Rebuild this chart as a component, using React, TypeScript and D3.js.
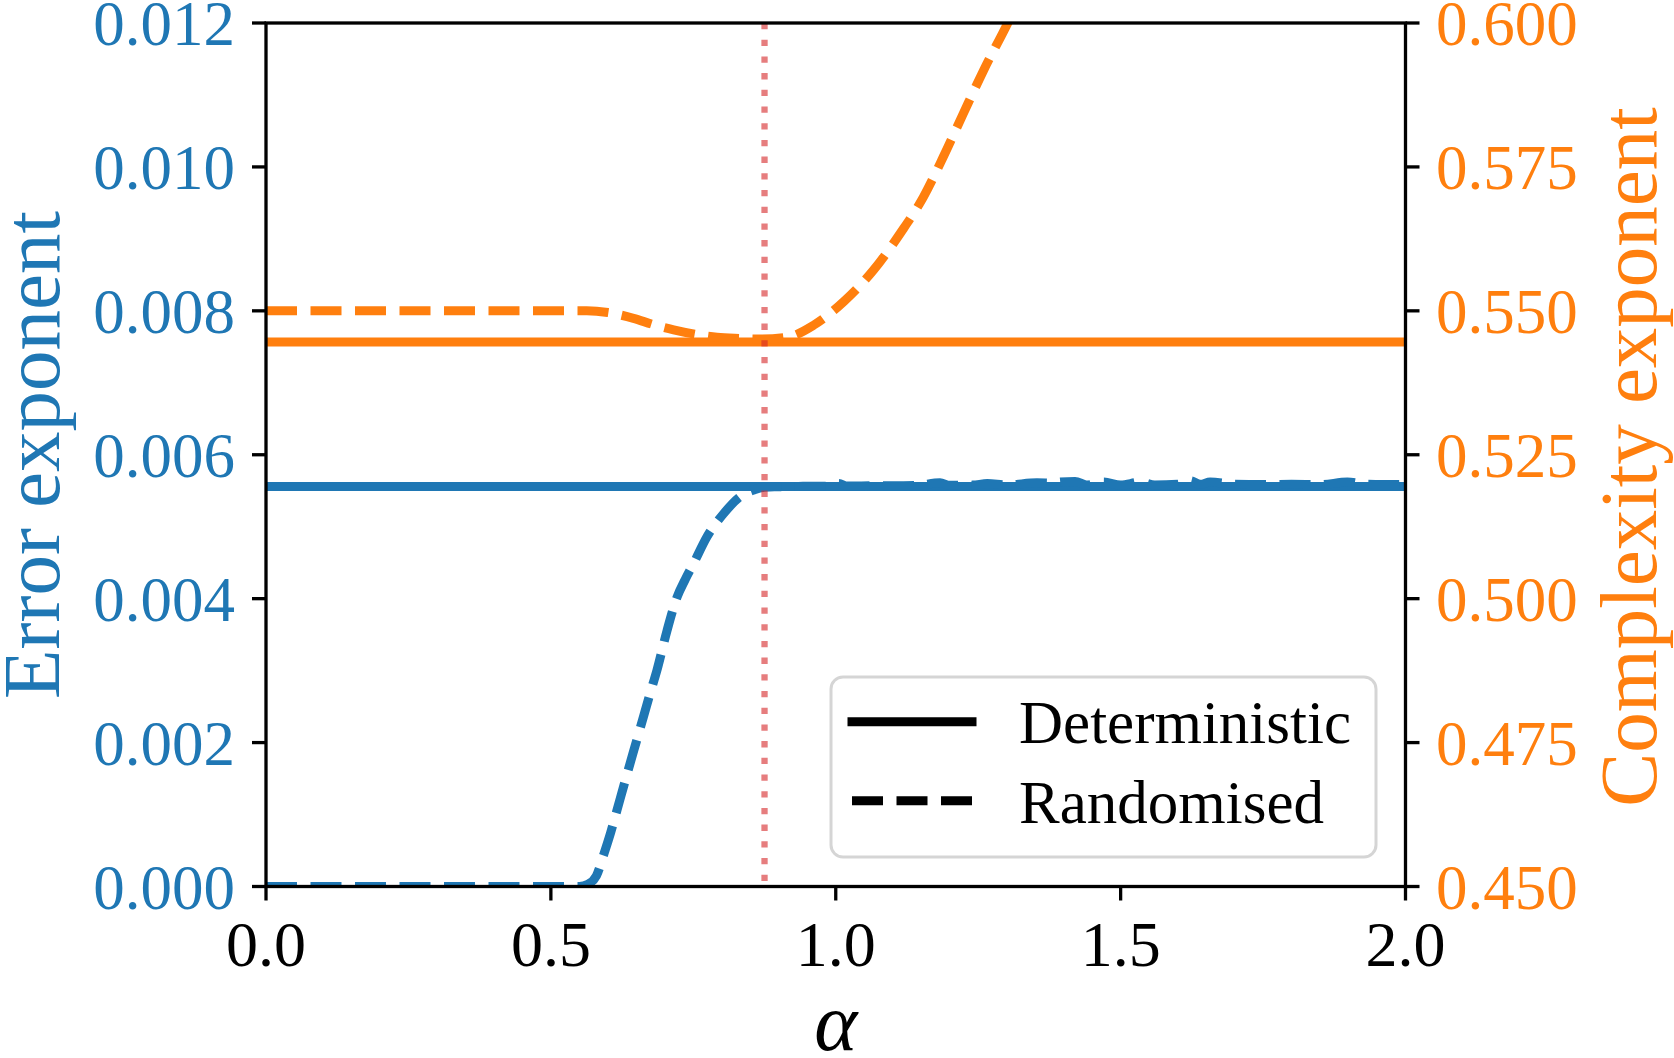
import React from "react";
import * as d3 from "d3";

// ---------- data ----------
const xTicks = [0, 0.5, 1.0, 1.5, 2.0];
const leftTicks = [0, 0.002, 0.004, 0.006, 0.008, 0.01, 0.012];
const rightTicks = [0.45, 0.475, 0.5, 0.525, 0.55, 0.575, 0.6];

const alphaCritical = 0.875;

const detX = [0, 2];
const detError = [0.00556, 0.00556];
const detComplexity = [0.5446, 0.5446];

const randErrorX = [
  0, 0.55, 0.565, 0.58, 0.593, 0.605, 0.616, 0.628, 0.639, 0.651, 0.6625, 0.674, 0.686,
  0.704, 0.7214, 0.736, 0.7505, 0.774, 0.803, 0.8325, 0.856, 0.875,
  0.9, 0.93, 0.96, 0.99, 1.005, 1.02, 1.06, 1.1, 1.14, 1.183, 1.2, 1.24, 1.266, 1.3,
  1.353, 1.383, 1.394, 1.42, 1.44, 1.47, 1.5, 1.535, 1.56, 1.6, 1.622, 1.64, 1.657,
  1.7, 1.75, 1.8, 1.85, 1.898, 1.93, 1.96, 2.0,
];
const randError = [
  0, 0, 0.00003, 0.00015, 0.00045, 0.00075, 0.00106, 0.0014, 0.00171, 0.00204, 0.00236,
  0.00268, 0.003, 0.00356, 0.00402, 0.00427, 0.00449, 0.00486, 0.00518, 0.00542, 0.00551,
  0.00555,
  0.005555, 0.00556, 0.005562, 0.005565, 0.0056, 0.005565, 0.005568, 0.00557, 0.005572,
  0.00561, 0.005575, 0.005578, 0.0056, 0.00558, 0.00561, 0.005605, 0.00562, 0.00563,
  0.00558, 0.00562, 0.00558, 0.00562, 0.00558, 0.00559, 0.00564, 0.00559, 0.00562,
  0.00559, 0.005585, 0.00559, 0.005585, 0.00562, 0.00559, 0.005585, 0.00559,
];

const randComplexityX = [
  0, 0.563, 0.6, 0.645, 0.68, 0.7155, 0.755, 0.7915, 0.83, 0.8677, 0.914, 0.961, 1.014,
  1.0665, 1.1135, 1.154, 1.189, 1.224, 1.2596, 1.3005, 1.33,
];
const randComplexity = [
  0.55, 0.55, 0.5497, 0.5487, 0.5476, 0.5467, 0.5459, 0.5454, 0.5452, 0.5451, 0.5454,
  0.5475, 0.5516, 0.5571, 0.5635, 0.5698, 0.5768, 0.5843, 0.5918, 0.5997, 0.6057,
];

const legendLabels = ["Deterministic", "Randomised"];

// ---------- layout ----------
const W = 1674;
const H = 1058;
const L = 266;
const R = 1405.5;
const T = 23;
const B = 886.5;

const BLUE = "#1f77b4";
const ORANGE = "#ff7f0e";
const FONT = "'Liberation Serif', 'DejaVu Serif', serif";
const LW = 9;
const DASH = "31 13.5";

export default function App() {
  const x = d3.scaleLinear().domain([0, 2]).range([L, R]);
  const yL = d3.scaleLinear().domain([0, 0.012]).range([B, T]);
  const yR = d3.scaleLinear().domain([0.45, 0.6]).range([B, T]);

  const pts = (xs: number[], ys: number[]) => xs.map((v, i) => [v, ys[i]] as [number, number]);

  const lineL = d3
    .line<[number, number]>()
    .x((d) => x(d[0]))
    .y((d) => yL(d[1]))
    .curve(d3.curveMonotoneX);
  const lineR = d3
    .line<[number, number]>()
    .x((d) => x(d[0]))
    .y((d) => yR(d[1]))
    .curve(d3.curveMonotoneX);

  const fmt3 = d3.format(".3f");
  const fmt1 = d3.format(".1f");

  return (
    <svg
      width={W}
      height={H}
      style={{ position: "absolute", left: 0, top: 0, background: "#fff" }}
      fontFamily={FONT}
    >
      <defs>
        <clipPath id="plot">
          <rect x={L} y={T} width={R - L} height={B - T} />
        </clipPath>
      </defs>
      <rect x={0} y={0} width={W} height={H} fill="#fff" />

      <g clipPath="url(#plot)" fill="none">
        <path d={lineL(pts(detX, detError)) || ""} stroke={BLUE} strokeWidth={LW} />
        <path
          d={lineL(pts(randErrorX, randError)) || ""}
          stroke={BLUE}
          strokeWidth={LW}
          strokeDasharray={DASH}
        />
        <path d={lineR(pts(detX, detComplexity)) || ""} stroke={ORANGE} strokeWidth={LW} />
        <path
          d={lineR(pts(randComplexityX, randComplexity)) || ""}
          stroke={ORANGE}
          strokeWidth={LW}
          strokeDasharray={DASH}
        />
        <line
          x1={x(alphaCritical)}
          x2={x(alphaCritical)}
          y1={T}
          y2={B}
          stroke="#d62728"
          strokeOpacity={0.6}
          strokeWidth={6.3}
          strokeDasharray="6.3 10.4"
        />
      </g>

      {/* spines */}
      <rect x={L} y={T} width={R - L} height={B - T} fill="none" stroke="#000" strokeWidth={3.3} />

      {/* x ticks */}
      {xTicks.map((t) => (
        <g key={"x" + t}>
          <line x1={x(t)} x2={x(t)} y1={B} y2={B + 14} stroke="#000" strokeWidth={3.3} />
          <text x={x(t)} y={966} fontSize={64} textAnchor="middle" fill="#000">
            {fmt1(t)}
          </text>
        </g>
      ))}
      {/* left ticks */}
      {leftTicks.map((t) => (
        <g key={"l" + t}>
          <line x1={L - 14} x2={L} y1={yL(t)} y2={yL(t)} stroke="#000" strokeWidth={3.3} />
          <text x={235} y={yL(t) + 22} fontSize={63} textAnchor="end" fill={BLUE}>
            {fmt3(t)}
          </text>
        </g>
      ))}
      {/* right ticks */}
      {rightTicks.map((t) => (
        <g key={"r" + t}>
          <line x1={R} x2={R + 14} y1={yR(t)} y2={yR(t)} stroke="#000" strokeWidth={3.3} />
          <text x={1436} y={yR(t) + 22} fontSize={63} textAnchor="start" fill={ORANGE}>
            {fmt3(t)}
          </text>
        </g>
      ))}

      {/* axis labels */}
      <text
        transform="translate(59,455) rotate(-90)"
        fontSize={81}
        textAnchor="middle"
        fill={BLUE}
      >
        Error exponent
      </text>
      <text
        transform="translate(1656,457) rotate(-90)"
        fontSize={81}
        textAnchor="middle"
        fill={ORANGE}
      >
        Complexity exponent
      </text>
      <text x={x(1)} y={1050} fontSize={82} fontStyle="italic" textAnchor="middle" fill="#000">
        α
      </text>

      {/* legend */}
      <g>
        <rect
          x={831}
          y={677}
          width={545}
          height={180}
          rx={12}
          fill="#fff"
          fillOpacity={0.8}
          stroke="#d5d5d5"
          strokeWidth={3}
        />
        <line x1={852} x2={972} y1={721.7} y2={721.7} stroke="#000" strokeWidth={LW} strokeLinecap="square" />
        <line x1={852} x2={972} y1={800.7} y2={800.7} stroke="#000" strokeWidth={LW} strokeDasharray={DASH} />
        <text x={1019} y={743} fontSize={61} fill="#000">
          {legendLabels[0]}
        </text>
        <text x={1019} y={822.5} fontSize={61} fill="#000">
          {legendLabels[1]}
        </text>
      </g>
    </svg>
  );
}
